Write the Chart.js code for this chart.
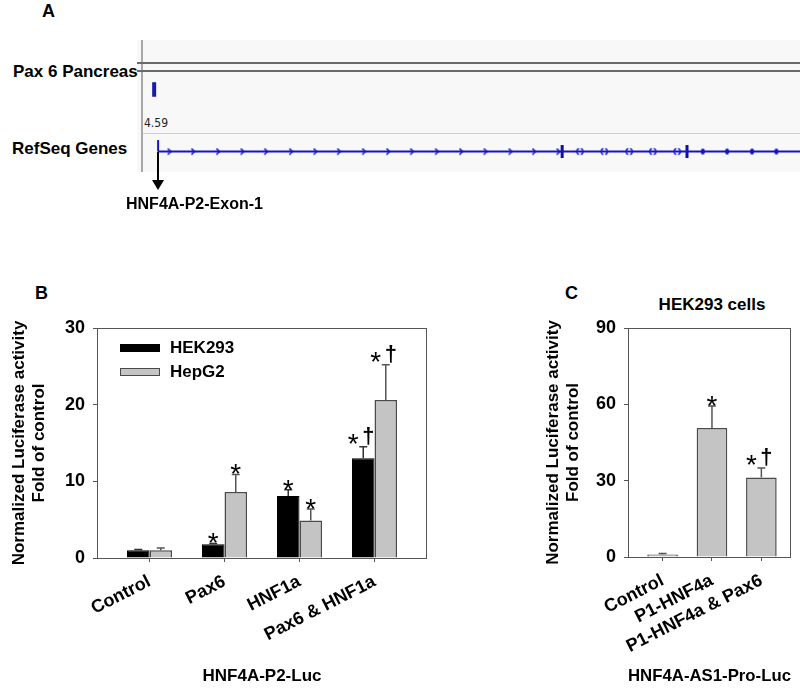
<!DOCTYPE html>
<html>
<head>
<meta charset="utf-8">
<title>HNF4A promoter luciferase</title>
<script src="https://cdn.jsdelivr.net/npm/chart.js@4.4.1/dist/chart.umd.min.js"></script>
<style>
  body { margin: 0; background: #fff; }
  #fig { position: relative; width: 800px; height: 688px; overflow: hidden; font-family: "Liberation Sans", Arial, sans-serif; color: #000; }
  .lbl { position: absolute; font-weight: bold; line-height: 1; white-space: nowrap; }
  .box { position: absolute; }
  canvas { position: absolute; }
</style>
</head>
<body>
<div id="fig">
  <!-- panel A: browser track -->
  <div class="lbl" style="left:42px;top:2px;font-size:18px">A</div>
  <div class="box" style="left:137px;top:40px;width:663px;height:132px;background:#f8f8f8"></div>
  <div class="box" style="left:141px;top:40px;width:2px;height:132px;background:#a8a8a8"></div>
  <div class="box" style="left:137px;top:62px;width:663px;height:2px;background:#6a6a6a"></div>
  <div class="box" style="left:137px;top:70px;width:663px;height:2px;background:#6a6a6a"></div>
  <div class="box" style="left:143px;top:133px;width:657px;height:1px;background:#cfcfcf"></div>
  <div class="lbl" style="left:13px;top:63px;font-size:17px">Pax 6 Pancreas</div>
  <div class="lbl" style="left:12px;top:140px;font-size:17px">RefSeq Genes</div>
  <div class="lbl" style="left:144px;top:117px;font-size:12px;font-weight:normal;font-family:'Liberation Sans Narrow','DejaVu Sans Condensed',sans-serif;color:#222">4.59</div>
  <canvas id="track" width="657" height="132" style="left:143px;top:40px"></canvas>
  <svg class="box" style="left:0;top:0" width="800" height="200">
    <line x1="158" y1="152" x2="158" y2="181" stroke="#000" stroke-width="2"/>
    <polygon points="152,180 164,180 158,190" fill="#000"/>
  </svg>
  <div class="lbl" style="left:126px;top:196px;font-size:16px">HNF4A-P2-Exon-1</div>

  <!-- panels B and C -->
  <div class="lbl" style="left:35px;top:284px;font-size:18px">B</div>
  <div class="lbl" style="left:565px;top:284px;font-size:18px">C</div>
  <div class="lbl" style="left:712px;top:296px;font-size:17px;transform:translateX(-50%)">HEK293 cells</div>
  <canvas id="chartB" width="440" height="408" style="left:0;top:280px"></canvas>
  <canvas id="chartC" width="360" height="408" style="left:440px;top:280px"></canvas>
</div>

<script>
// ---- panel B: HNF4A-P2-Luc ----
const groupsB = ['Control', 'Pax6', 'HNF1a', 'Pax6 & HNF1a']
const hek293 = [1.0, 1.8, 8.1, 13.0]
const hek293Err = [0.1, 0.1, 0.8, 1.5]
const hek293Marks = ['', '*', '*', '*†']
const hepg2 = [1.0, 8.6, 4.9, 20.6]
const hepg2Err = [0.3, 2.3, 1.5, 4.6]
const hepg2Marks = ['', '*', '*', '*†']
const ticksB = [0, 10, 20, 30]

// ---- panel C: HNF4A-AS1-Pro-Luc, HEK293 cells ----
const groupsC = ['Control', 'P1-HNF4a', 'P1-HNF4a & Pax6']
const hekC = [1.0, 50.7, 31.2]
const hekCErr = [0.4, 8.6, 3.8]
const hekCMarks = ['', '*', '*†']
const ticksC = [0, 30, 60, 90]

// ---- panel A: track features, position in % of the browser window ----
const geneStart = 2.3
const geneEnd = 100
const geneRow = 1.55
const startTickTop = 2.42
const peakPos = 1.7
const peakSignal = [5.7, 6.8]
const fwdArrows = [4.0, 7.6, 11.4, 15.1, 18.7, 22.5, 26.2, 29.8, 33.6, 37.3, 40.9, 44.7, 48.4, 52.1, 55.9, 59.5, 63.2]
const exons = [63.8, 82.8]
const pairMarks = [66.5, 70.2, 74.0, 77.6, 81.3]
const dotMarks = [85.2, 88.9, 92.7, 96.4]

const FONT = "'Liberation Sans', Arial, sans-serif"
const BLUE = '#1414c4'

Chart.defaults.font.family = FONT
Chart.defaults.font.weight = 'bold'
Chart.defaults.font.size = 17
Chart.defaults.color = '#000'
Chart.defaults.animation = false

// error bars (upper half only) plus * and dagger marks above them
const errorBars = {
    id: 'errorBars',
    afterDatasetsDraw(chart) {
        const ctx = chart.ctx
        const yScale = chart.scales.y
        chart.data.datasets.forEach((ds, i) => {
            if (!ds.errors) return
            chart.getDatasetMeta(i).data.forEach((bar, j) => {
                const top = yScale.getPixelForValue(ds.data[j].y + ds.errors[j])
                ctx.save()
                ctx.strokeStyle = ds.errorColor
                ctx.lineWidth = 1.5
                ctx.beginPath()
                ctx.moveTo(bar.x, bar.y)
                ctx.lineTo(bar.x, top)
                ctx.moveTo(bar.x - 4, top)
                ctx.lineTo(bar.x + 4, top)
                ctx.stroke()
                ctx.fillStyle = '#000'
                ctx.textAlign = 'center'
                ctx.textBaseline = 'alphabetic'
                const mark = ds.marks[j]
                if (mark === '*') {
                    ctx.font = 'normal 28px ' + FONT
                    ctx.fillText('*', bar.x, top + 9)
                } else if (mark === '*†') {
                    ctx.font = 'normal 28px ' + FONT
                    ctx.fillText('*', bar.x - 10, top + 6)
                    ctx.font = 'bold 22px ' + FONT
                    ctx.fillText('†', bar.x + 5, top - 4)
                }
                ctx.restore()
            })
        })
    }
}

// box round the plot area
const frame = {
    id: 'frame',
    afterDraw(chart) {
        const { ctx, chartArea: a } = chart
        ctx.save()
        ctx.strokeStyle = '#555'
        ctx.lineWidth = 1
        ctx.strokeRect(a.left + 0.5, a.top + 0.5, a.width - 1, a.height)
        ctx.restore()
    }
}

// legend drawn inside the plot area
const insideLegend = {
    id: 'insideLegend',
    afterDraw(chart, args, opts) {
        if (!opts.show) return
        const { ctx, chartArea: a } = chart
        ctx.save()
        ctx.font = 'bold 17px ' + FONT
        ctx.textBaseline = 'middle'
        chart.data.datasets.forEach((ds, i) => {
            const x = a.left + opts.left
            const y = a.top + opts.top + i * opts.gap
            ctx.fillStyle = ds.backgroundColor
            ctx.fillRect(x, y - 4, 40, 8)
            ctx.strokeStyle = ds.borderColor
            ctx.lineWidth = 1
            ctx.strokeRect(x + 0.5, y - 3.5, 39, 7)
            ctx.fillStyle = '#000'
            ctx.fillText(ds.label, x + 50, y)
        })
        ctx.restore()
    }
}

function barOptions(groups, yTicks, xTitle, sizes) {
    return {
        responsive: false,
        events: [],
        layout: { padding: sizes.padding },
        datasets: { bar: { categoryPercentage: sizes.catPct, barPercentage: 1 } },
        plugins: {
            legend: { display: false },
            tooltip: { enabled: false },
            insideLegend: sizes.legend || { show: false },
        },
        scales: {
            x: {
                type: 'linear',
                min: sizes.xMin,
                max: sizes.xMax,
                offset: false,
                bounds: 'data',
                afterBuildTicks: s => { s.ticks = groups.map((g, i) => ({ value: i })) },
                afterFit: s => { s.height = sizes.xHeight },
                grid: { drawOnChartArea: false, offset: false, tickLength: 4, color: '#555' },
                border: { display: false },
                ticks: {
                    callback: v => groups[v],
                    minRotation: 27,
                    maxRotation: 27,
                    autoSkip: false,
                    padding: 9,
                    font: { size: 18 },
                },
                title: { display: true, text: xTitle, padding: { top: 0, bottom: 1 }, font: { size: 17 } },
            },
            y: {
                min: yTicks[0],
                max: yTicks[yTicks.length - 1],
                afterBuildTicks: s => { s.ticks = yTicks.map(v => ({ value: v })) },
                afterFit: s => { s.width = sizes.yWidth },
                grid: { drawOnChartArea: false, tickLength: 4, color: '#555' },
                border: { display: false },
                ticks: { padding: 8, font: { size: 18 } },
                title: {
                    display: true,
                    text: ['Normalized Luciferase activity', 'Fold of control'],
                    padding: { top: 9, bottom: 0 },
                    font: { size: 17 },
                },
            },
        },
    }
}

new Chart(document.getElementById('chartB'), {
    type: 'bar',
    data: {
        datasets: [
            {
                label: 'HEK293',
                data: hek293.map((v, i) => ({ x: i, y: v })),
                errors: hek293Err,
                marks: hek293Marks,
                backgroundColor: '#000',
                borderColor: '#000',
                borderWidth: 1,
                errorColor: '#333',
            },
            {
                label: 'HepG2',
                data: hepg2.map((v, i) => ({ x: i, y: v })),
                errors: hepg2Err,
                marks: hepg2Marks,
                backgroundColor: '#c4c4c4',
                borderColor: '#4a4a4a',
                borderWidth: 1.5,
                errorColor: '#555',
            },
        ],
    },
    options: barOptions(groupsB, ticksB, 'HNF4A-P2-Luc', {
        padding: { left: 0, top: 48, right: 13, bottom: 0 },
        catPct: 0.6,
        xMin: -0.7,
        xMax: 3.7,
        xHeight: 130,
        yWidth: 97,
        legend: { show: true, left: 23, top: 20, gap: 24 },
    }),
    plugins: [errorBars, frame, insideLegend],
})

new Chart(document.getElementById('chartC'), {
    type: 'bar',
    data: {
        datasets: [
            {
                label: 'HEK293',
                data: hekC.map((v, i) => ({ x: i, y: v })),
                errors: hekCErr,
                marks: hekCMarks,
                backgroundColor: '#c4c4c4',
                borderColor: '#4a4a4a',
                borderWidth: 1.5,
                errorColor: '#555',
            },
        ],
    },
    options: barOptions(groupsC, ticksC, 'HNF4A-AS1-Pro-Luc', {
        padding: { left: 94, top: 48, right: 9, bottom: 0 },
        catPct: 0.62,
        xMin: -0.7,
        xMax: 2.6,
        xHeight: 131,
        yWidth: 94,
    }),
    plugins: [errorBars, frame],
})

// ---- panel A track drawn as a scatter chart ----
function markCanvas(w, h, draw) {
    const c = document.createElement('canvas')
    c.width = w
    c.height = h
    const g = c.getContext('2d')
    g.strokeStyle = BLUE
    g.fillStyle = BLUE
    g.lineWidth = 1.6
    draw(g)
    return c
}
const chevron = markCanvas(6, 8, g => {
    g.beginPath(); g.moveTo(1.5, 1); g.lineTo(4.5, 4); g.lineTo(1.5, 7); g.stroke()
})
const pairMark = markCanvas(9, 9, g => {
    g.beginPath(); g.arc(5, 4.5, 3.5, Math.PI * 0.65, Math.PI * 1.35); g.stroke()
    g.beginPath(); g.arc(4, 4.5, 3.5, -Math.PI * 0.35, Math.PI * 0.35); g.stroke()
})
const dotMark = markCanvas(6, 8, g => {
    g.beginPath(); g.ellipse(3, 4, 2, 3, 0, 0, Math.PI * 2); g.fill()
})

new Chart(document.getElementById('track'), {
    type: 'scatter',
    data: {
        datasets: [
            { data: [{ x: geneStart, y: geneRow }, { x: geneEnd, y: geneRow }], showLine: true, borderColor: BLUE, borderWidth: 2, pointRadius: 0 },
            { data: [{ x: geneStart, y: geneRow }, { x: geneStart, y: startTickTop }], showLine: true, borderColor: BLUE, borderWidth: 2, pointRadius: 0 },
            { data: peakSignal.map(v => ({ x: peakPos, y: v })), showLine: true, borderColor: '#1a1aa8', borderWidth: 4, pointRadius: 0 },
            { data: fwdArrows.map(x => ({ x, y: geneRow })), pointStyle: chevron },
            { data: pairMarks.map(x => ({ x, y: geneRow })), pointStyle: pairMark },
            { data: dotMarks.map(x => ({ x, y: geneRow })), pointStyle: dotMark },
            { data: exons.map(x => ({ x, y: geneRow })), pointStyle: 'line', rotation: 90, radius: 6.5, borderColor: '#10109a', borderWidth: 3 },
        ],
    },
    options: {
        responsive: false,
        events: [],
        layout: { padding: 0, autoPadding: false },
        plugins: { legend: { display: false }, tooltip: { enabled: false } },
        scales: {
            x: { type: 'linear', min: 0, max: 100, display: false },
            y: { min: 0, max: 10, display: false },
        },
    },
})
</script>
</body>
</html>
